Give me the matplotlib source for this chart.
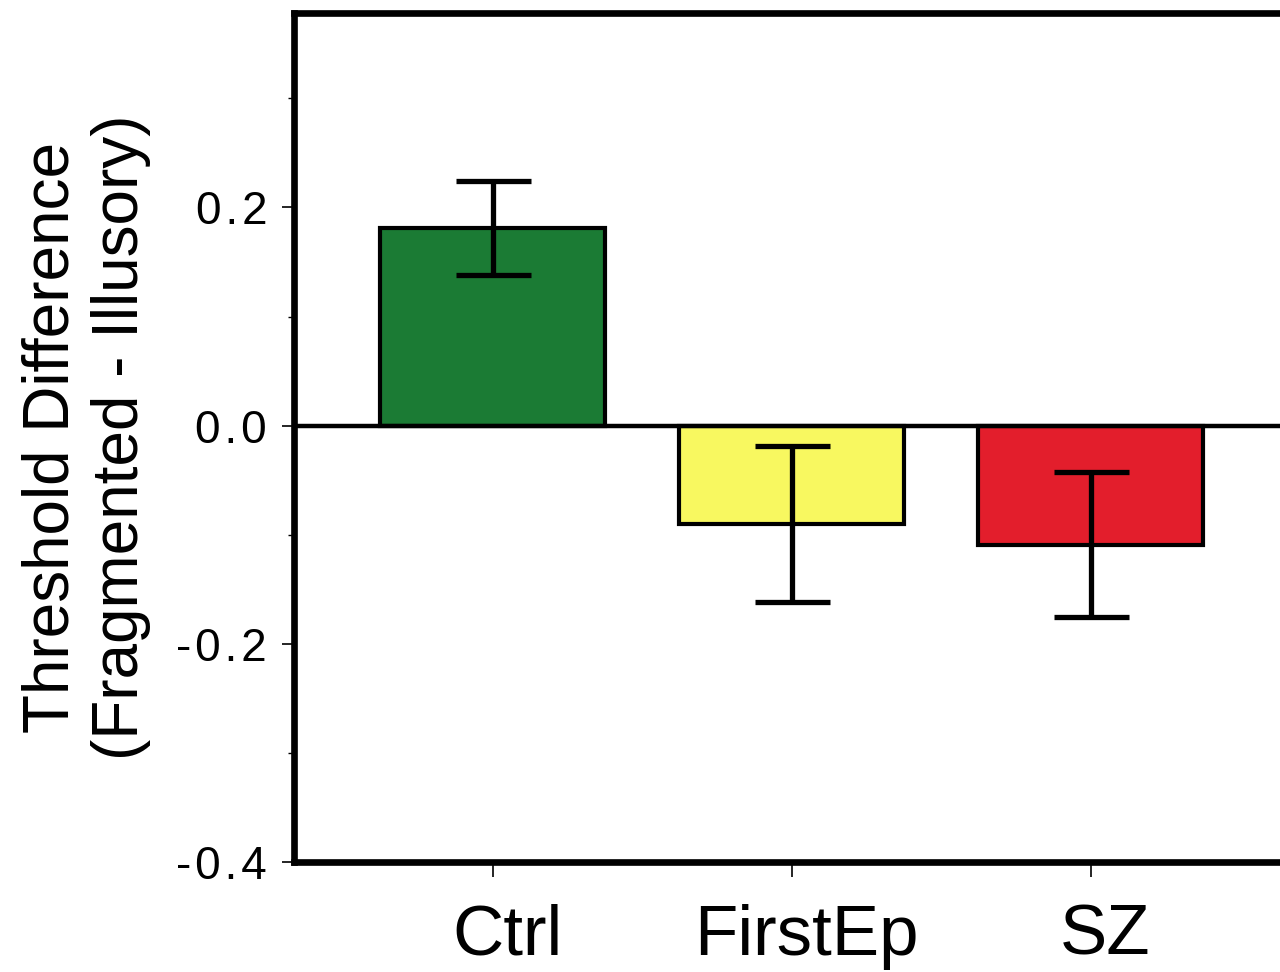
import matplotlib
matplotlib.use("Agg")
import matplotlib.pyplot as plt
from matplotlib.ticker import MultipleLocator, FixedLocator
from matplotlib.transforms import ScaledTranslation

groups = ["Ctrl", "FirstEp", "SZ"]
means = [0.181, -0.090, -0.109]
errors = [0.043, 0.0715, 0.0665]
colors = ["#1b7b34", "#f8f860", "#e31e2c"]
yticks = [-0.4, -0.2, 0.0, 0.2]
ytick_labels = ["-0.4", "-0.2", "0.0", "0.2"]
ylabel = "Threshold Difference\n(Fragmented - Illusory)"

plt.rcParams['font.family'] = ['Liberation Sans', 'DejaVu Sans']

fig = plt.figure(figsize=(12.8, 9.72), dpi=100)
ax = fig.add_axes([293.5 / 1280, 1 - 862 / 972, 1096 / 1280, (862 - 13.3) / 972])

x = list(range(len(groups)))
ax.bar(x, means, width=0.75, color=colors, edgecolor='black', linewidth=3, zorder=2)
ax.errorbar(x, means, yerr=errors, fmt='none', ecolor='black', elinewidth=3.8,
            capsize=27, capthick=3.8, zorder=3)
ax.axhline(0, color='black', lw=3.2, zorder=4)

ax.set_xlim(-0.666, 3.0)
ax.set_ylim(-0.4, 0.378)

ax.set_xticks(x)
ax.set_xticklabels(groups, fontsize=51)
ax.yaxis.set_major_locator(FixedLocator(yticks))
ax.set_yticklabels(["\u200a".join(list(s)) for s in ytick_labels], fontsize=33)
ax.yaxis.set_minor_locator(MultipleLocator(0.1))

ax.tick_params(axis='y', which='major', direction='out', length=9, width=1.2, pad=10)
ax.tick_params(axis='y', which='minor', direction='out', length=4.5, width=1.0)
ax.tick_params(axis='x', which='major', direction='out', length=11, width=1.2, pad=19)

offset = ScaledTranslation(15 / 100, 0, fig.dpi_scale_trans)
for lbl in ax.get_xticklabels():
    lbl.set_transform(lbl.get_transform() + offset)

for s in ['left', 'bottom', 'top', 'right']:
    ax.spines[s].set_linewidth(4.8)

fig.text(86 / 1280, 1 - 437 / 972, ylabel, rotation=90, ha='center', va='center',
         fontsize=46, multialignment='center', linespacing=1.2)

fig.savefig("out.png", dpi=100)
